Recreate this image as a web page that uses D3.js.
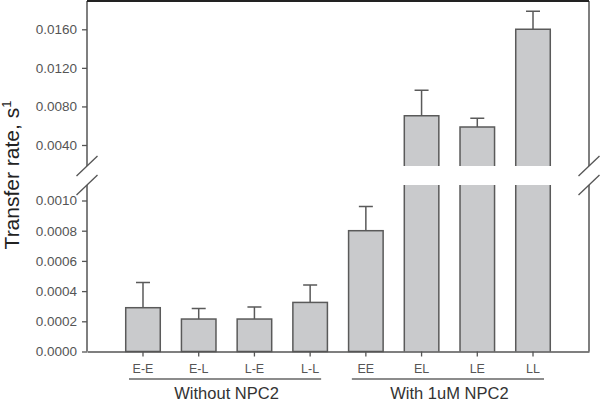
<!DOCTYPE html>
<html>
<head>
<meta charset="utf-8">
<script src="https://cdn.jsdelivr.net/npm/d3@7"></script>
<style>
  body { margin: 0; background: #fff; }
  text { font-family: Arial, "Liberation Sans", sans-serif; }
</style>
</head>
<body>
<div id="chart"></div>
<script>
// dades
const categories = ["E-E", "E-L", "L-E", "L-L", "EE", "EL", "LE", "LL"];
const values = [0.00029, 0.000215, 0.000215, 0.000325, 0.0008, 0.00703, 0.00587, 0.0160];
const errors = [0.000167, 0.00007, 0.00008, 0.000115, 0.00016, 0.00266, 0.0009, 0.00186];
const groups = [
    { name: "Without NPC2", from: "E-E", to: "L-L" },
    { name: "With 1uM NPC2", from: "EE", to: "LL" }
];
const lowTicks = [0, 0.0002, 0.0004, 0.0006, 0.0008, 0.0010];
const highTicks = [0.004, 0.008, 0.012, 0.016];

const width = 600, height = 407;
const left = 87, right = 589;
const yBase = 351.5;    // zero del panell inferior
const yLowTop = 185;    // inici del tall
const yHighBot = 166;   // final del panell superior
const yTop = 1;

const svg = d3.select("#chart").append("svg")
    .attr("width", width)
    .attr("height", height);

// Escales
const x = d3.scaleBand()
    .domain(categories)
    .range([left, right])
    .paddingInner(0.38)
    .paddingOuter(0.695);

const yLow = d3.scaleLinear()
    .domain([0, 0.0011])
    .range([yBase, yBase - 0.0011 / 0.001 * 151]);

const yHigh = d3.scaleLinear()
    .domain([0.004, 0.016])
    .range([145, 29.3]);

const fill = "#c9cacc";
const stroke = "#5a5a5a";
const axisCol = "#555";
const font = "Arial, 'Liberation Sans', sans-serif";

// barres
categories.forEach((c, i) => {
    const v = values[i];
    const x0 = x(c), x1 = x(c) + x.bandwidth();
    const g = svg.append("g");
    if (v <= 0.0011) {
        const yt = yLow(v);
        g.append("rect").attr("x", x0).attr("y", yt)
            .attr("width", x.bandwidth()).attr("height", yBase - yt)
            .attr("fill", fill).attr("stroke", stroke).attr("stroke-width", 1.5);
        errBar(g, (x0 + x1) / 2, yt, yLow(v + errors[i]));
    } else {
        // tros inferior (tallat)
        g.append("rect").attr("x", x0).attr("y", yLowTop)
            .attr("width", x.bandwidth()).attr("height", yBase - yLowTop)
            .attr("fill", fill);
        const yt = yHigh(v);
        g.append("rect").attr("x", x0).attr("y", yt)
            .attr("width", x.bandwidth()).attr("height", yHighBot - yt)
            .attr("fill", fill);
        g.append("path")
            .attr("d", `M${x0},${yBase}V${yLowTop}M${x1},${yBase}V${yLowTop}` +
                       `M${x0},${yHighBot}V${yt}H${x1}V${yHighBot}`)
            .attr("fill", "none").attr("stroke", stroke).attr("stroke-width", 1.5);
        errBar(g, (x0 + x1) / 2, yt, yHigh(v + errors[i]));
    }
});

function errBar(g, cx, y0, y1) {
    g.append("path")
        .attr("d", `M${cx},${y0}V${y1}M${cx - 7},${y1}H${cx + 7}`)
        .attr("fill", "none").attr("stroke", stroke).attr("stroke-width", 1.5);
}

// Eixos Y (inferior i superior)
[[yLow, lowTicks], [yHigh, highTicks]].forEach(([sc, ticks]) => {
    svg.append("g")
        .attr("transform", `translate(${left},0)`)
        .call(d3.axisLeft(sc).tickValues(ticks).tickFormat(d3.format(".4f")).tickSize(5).tickPadding(5))
        .call(g => g.select(".domain").remove())
        .call(g => g.selectAll("line").attr("stroke", axisCol).attr("stroke-width", 1.3))
        .selectAll("text")
        .style("font-size", "13.5px").style("fill", "#555").style("font-family", font);
});

// línies del marc
[left, right].forEach(xx => {
    svg.append("line").attr("x1", xx).attr("x2", xx).attr("y1", yTop).attr("y2", yHighBot)
        .attr("stroke", axisCol).attr("stroke-width", 1.5);
    svg.append("line").attr("x1", xx).attr("x2", xx).attr("y1", yLowTop).attr("y2", yBase)
        .attr("stroke", axisCol).attr("stroke-width", 1.5);
    // marques de tall
    [yHighBot, yLowTop].forEach(yy => {
        svg.append("line")
            .attr("x1", xx - 10.5).attr("y1", yy + 10)
            .attr("x2", xx + 10.5).attr("y2", yy - 10)
            .attr("stroke", axisCol).attr("stroke-width", 1.3);
    });
});
svg.append("line").attr("x1", left).attr("x2", right).attr("y1", yTop).attr("y2", yTop)
    .attr("stroke", "#222").attr("stroke-width", 2);

// Eix X
svg.append("g")
    .attr("transform", `translate(0,${yBase})`)
    .call(d3.axisBottom(x).tickSize(5).tickPadding(8).tickSizeOuter(0))
    .call(g => g.select(".domain").attr("stroke", axisCol).attr("stroke-width", 1.5))
    .call(g => g.selectAll("line").attr("stroke", axisCol).attr("stroke-width", 1.3))
    .selectAll("text")
    .style("font-size", "12.5px").style("fill", "#555").style("font-family", font);

// grups
groups.forEach(gr => {
    const x0 = x(gr.from) + x.bandwidth() / 2 - 14;
    const x1 = x(gr.to) + x.bandwidth() / 2 + 11;
    svg.append("line").attr("x1", x0).attr("x2", x1).attr("y1", 379).attr("y2", 379)
        .attr("stroke", "#666").attr("stroke-width", 1.5);
    svg.append("text")
        .attr("x", (x(gr.from) + x(gr.to) + x.bandwidth()) / 2)
        .attr("y", 399)
        .attr("text-anchor", "middle")
        .style("font-size", "16.5px")
        .style("fill", "#333")
        .text(gr.name);
});

// Títol eix Y
const yt = svg.append("text")
    .attr("transform", "rotate(-90)")
    .attr("x", -175)
    .attr("y", 19)
    .attr("text-anchor", "middle")
    .style("font-size", "21px")
    .style("fill", "#222")
    .text("Transfer rate, s");
yt.append("tspan").attr("dy", -8).style("font-size", "13px").text("1");
</script>
</body>
</html>
